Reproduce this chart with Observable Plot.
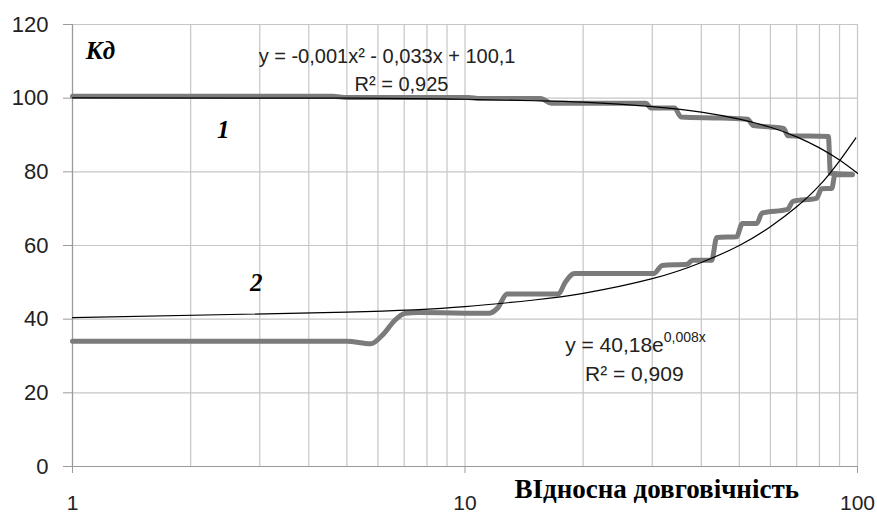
<!DOCTYPE html>
<html>
<head>
<meta charset="utf-8">
<script src="https://cdn.jsdelivr.net/npm/d3@7"></script>
<script src="https://cdn.jsdelivr.net/npm/@observablehq/plot@0.6"></script>
<style>
  html, body { margin: 0; padding: 0; background: #fff; }
  #chart svg { display: block; }
</style>
</head>
<body>
<div id="chart"></div>
<script>
// ---- data ----
// curve 1 (upper, steps)
const series1X = [1, 4.6, 5.0, 10.2, 10.9, 15.6, 16.6, 28.9, 29.8, 34.2, 35.5, 45, 52.5, 54.2, 60, 64.8, 66.5, 84.3, 85.3, 97];
const series1Y = [100.5, 100.5, 100.2, 100.2, 99.9, 99.9, 98.6, 98.6, 97.3, 97.3, 94.9, 94.6, 94.3, 92.6, 92.2, 91.8, 89.8, 89.6, 79.6, 79.3];
// curve 2 (lower, steps)
const series2X = [1, 5.0, 5.75, 6.2, 6.6, 7.05, 7.6, 11.5, 12.1, 12.8, 17.3, 18.0, 19.0, 30.3, 31.8, 36.8, 38.0, 42.5, 43.8, 49.2, 50.9, 55.4, 57.1, 66.3, 68.5, 78.6, 81.0, 86.0, 87.6, 97];
const series2Y = [34.0, 34.0, 33.3, 36.0, 39.5, 41.6, 41.8, 41.6, 43.0, 46.8, 46.8, 50.0, 52.4, 52.4, 54.6, 54.9, 56.0, 56.0, 62.2, 62.4, 66.0, 66.0, 68.8, 69.8, 72.0, 72.8, 75.4, 75.5, 79.2, 79.2];
// trend line 1 (polynomial)
const trend1X = [1, 5, 10, 15, 20, 30, 40, 50, 60, 70, 80, 90, 100];
const trend1Y = [100.1, 100.0, 99.7, 99.3, 98.9, 97.7, 96.2, 94.3, 92.1, 89.5, 86.5, 83.2, 79.6];
// trend line 2 (exponential)
const trend2X = [1, 5, 10, 15, 20, 30, 40, 50, 60, 70, 80, 90, 99];
const trend2Y = [40.4, 41.9, 43.4, 45.2, 47.0, 51.0, 55.4, 60.0, 65.1, 70.5, 76.3, 83.0, 89.2];
// ticks
const yTicks = [0, 20, 40, 60, 80, 100, 120];
const xTickLabels = [1, 10, 100];
const xGridTicks = [1, 2, 3, 4, 5, 6, 7, 8, 9, 10, 20, 30, 40, 50, 60, 70, 80, 90, 100];
// texts
const eq1Lines = ["y = -0,001x² - 0,033x + 100,1", "R² = 0,925"];
const eq2Main = "y = 40,18e";
const eq2Exp = "0,008x";
const eq2R2 = "R² = 0,909";
const yTitle = "Кд";
const curveLabels = ["1", "2"];
const xTitle = "ВІдносна довговічність";

// ---- build tables ----
const s1 = series1X.map((x, i) => ({x, y: series1Y[i]}));
const s2 = series2X.map((x, i) => ({x, y: series2Y[i]}));
const t1 = trend1X.map((x, i) => ({x, y: trend1Y[i]}));
const t2 = trend2X.map((x, i) => ({x, y: trend2Y[i]}));

const gridColor = "#c6c6c6";
const axisColor = "#9a9a9a";
const seriesColor = "#7b7b7b";
const sans = "Liberation Sans, Arial, sans-serif";
const serif = "Liberation Serif, Times New Roman, serif";

const chart = Plot.plot({
  width: 877,
  height: 516,
  marginLeft: 72,
  marginRight: 20,
  marginTop: 24,
  marginBottom: 50,
  style: {fontFamily: sans, background: "#fff", color: "#222"},
  x: {type: "log", domain: [1, 100]},
  y: {domain: [0, 120]},
  marks: [
    Plot.gridX(xGridTicks, {stroke: gridColor, strokeOpacity: 1, strokeWidth: 1.2}),
    Plot.gridY(yTicks.filter(d => d > 0), {stroke: gridColor, strokeOpacity: 1, strokeWidth: 1.2}),
    Plot.ruleX([1], {stroke: axisColor, strokeWidth: 1.2}),
    Plot.ruleY([0], {stroke: axisColor, strokeWidth: 1.2}),
    Plot.axisY({ticks: yTicks, tickSize: 9, tickPadding: 15, fontSize: 22, stroke: axisColor, label: null, fill: "#222"}),
    Plot.axisX({ticks: xTickLabels, tickSize: 7, tickPadding: 22, fontSize: 21, stroke: axisColor, label: null, tickFormat: d => String(d), fill: "#222"}),
    Plot.line(s1, {x: "x", y: "y", stroke: seriesColor, strokeWidth: 5, curve: "monotone-x"}),
    Plot.line(s2, {x: "x", y: "y", stroke: seriesColor, strokeWidth: 5, curve: "monotone-x"}),
    Plot.line(t1, {x: "x", y: "y", stroke: "#000", strokeWidth: 1.2, curve: "natural"}),
    Plot.line(t2, {x: "x", y: "y", stroke: "#000", strokeWidth: 1.2, curve: "natural"}),
    // equation 1
    Plot.text([eq1Lines[0]], {x: 6.33, y: 111.3, text: d => d, fontSize: 20, fill: "#222", textAnchor: "middle"}),
    Plot.text([eq1Lines[1]], {x: 6.89, y: 103.7, text: d => d, fontSize: 20, fill: "#222", textAnchor: "middle"}),
    // equation 2
    Plot.text([eq2Main], {x: 32.1, y: 33.0, text: d => d, fontSize: 21, fill: "#222", textAnchor: "end"}),
    Plot.text([eq2Exp], {x: 32.1, y: 33.0, text: d => d, fontSize: 14, fill: "#222", textAnchor: "start", dy: -7}),
    Plot.text([eq2R2], {x: 27.0, y: 25.1, text: d => d, fontSize: 21, fill: "#222", textAnchor: "middle"}),
    // labels
    Plot.text([yTitle], {x: 1.178, y: 112.9, text: d => d, fontSize: 25, fontWeight: "bold", fontStyle: "italic", fontFamily: serif, fill: "#000"}),
    Plot.text([curveLabels[0]], {x: 2.42, y: 91.4, text: d => d, fontSize: 25, fontWeight: "bold", fontStyle: "italic", fontFamily: serif, fill: "#000"}),
    Plot.text([curveLabels[1]], {x: 2.94, y: 49.8, text: d => d, fontSize: 25, fontWeight: "bold", fontStyle: "italic", fontFamily: serif, fill: "#000"}),
    Plot.text([xTitle], {x: 30.8, frameAnchor: "bottom", dy: 31, text: d => d, fontSize: 27, fontWeight: "bold", fontFamily: serif, fill: "#000"})
  ]
});
document.getElementById("chart").appendChild(chart);
</script>
</body>
</html>
